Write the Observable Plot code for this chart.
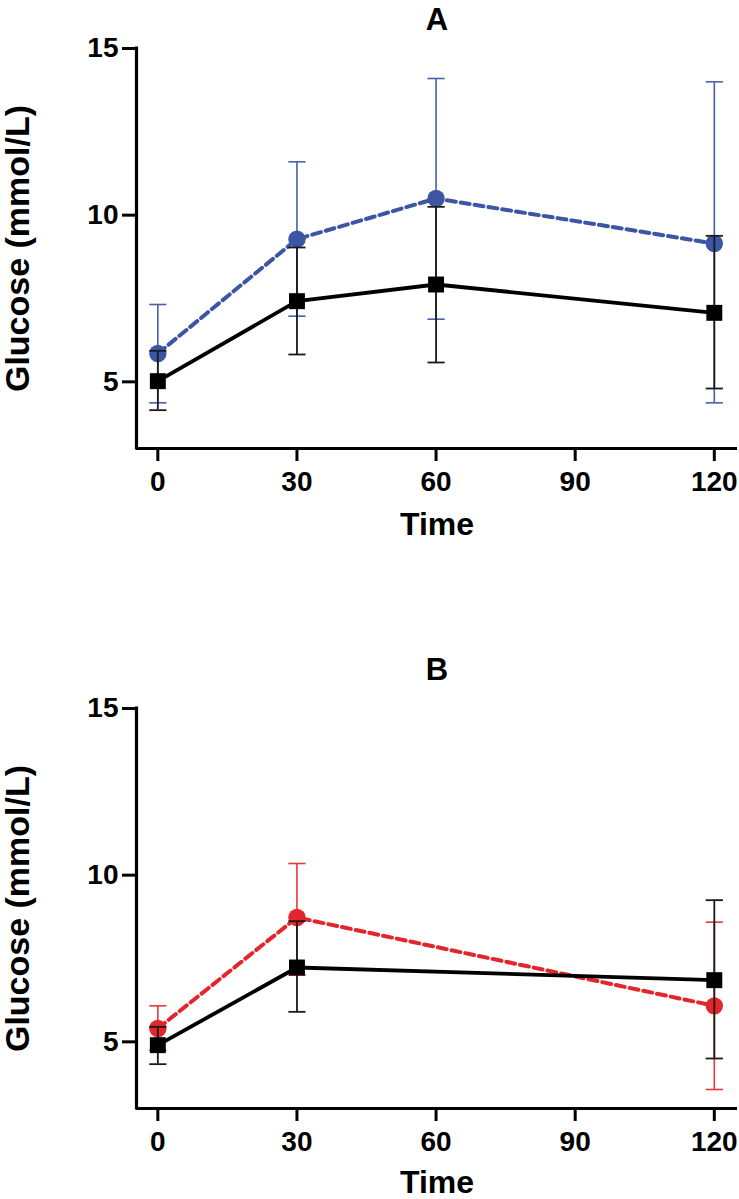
<!DOCTYPE html>
<html><head><meta charset="utf-8">
<script src="https://cdn.jsdelivr.net/npm/d3@7"></script>
<script src="https://cdn.jsdelivr.net/npm/@observablehq/plot@0.6"></script>
<style>
body{margin:0;background:#fff}
#chart svg{display:block}
</style>
</head><body><div id="chart"></div>
<script>
// ---- data ----
const xTicks = [0, 30, 60, 90, 120];
const yTicks = [5, 10, 15];
const xDomain = [-4.6, 125];
const yDomain = [3, 15];

// Panel A
const timesA = [0, 30, 60, 120];
const blackMeanA = [5.02, 7.42, 7.92, 7.07];
const blackLoA   = [4.15, 5.82, 5.58, 4.80];
const blackHiA   = [5.93, 9.03, 10.25, 9.38];
const blueMeanA  = [5.85, 9.28, 10.50, 9.15];
const blueLoA    = [4.37, 6.97, 6.88, 4.37];
const blueHiA    = [7.32, 11.60, 14.10, 14.00];

// Panel B
const timesB = [0, 30, 120];
const blackMeanB = [4.90, 7.23, 6.85];
const blackLoB   = [4.33, 5.90, 4.50];
const blackHiB   = [5.45, 8.62, 9.25];
const redMeanB   = [5.40, 8.73, 6.08];
const redLoB     = [4.75, 7.00, 3.57];
const redHiB     = [6.08, 10.35, 8.59];

const rows = (times, mean, lo, hi) => times.map((t, i) => ({t, mean: mean[i], lo: lo[i], hi: hi[i]}));

// horizontal cap symbol for error bars
const cap = {draw(ctx, size) { const w = Math.sqrt(size / Math.PI); ctx.moveTo(-w, 0); ctx.lineTo(w, 0); }};

const FONT = "Liberation Sans, Arial, Helvetica, sans-serif";

function seriesMarks(s) {
  return [
    Plot.ruleX(s.data, {x: "t", y1: "lo", y2: "hi", stroke: s.bar, strokeWidth: s.barW}),
    Plot.dot(s.data, {x: "t", y: "lo", symbol: cap, r: 8.6, fill: "none", stroke: s.bar, strokeWidth: s.barW}),
    Plot.dot(s.data, {x: "t", y: "hi", symbol: cap, r: 8.6, fill: "none", stroke: s.bar, strokeWidth: s.barW}),
    Plot.line(s.data, {x: "t", y: "mean", stroke: s.color, strokeWidth: s.lineW, strokeDasharray: s.dash}),
    Plot.dot(s.data, {x: "t", y: "mean", symbol: s.symbol, r: s.r, fill: s.color, stroke: "none"})
  ];
}

function panel({title, series, height, marginTop, marginBottom, titleDy, timeDy}) {
  return Plot.plot({
    width: 739,
    height,
    marginLeft: 136,
    marginRight: 2,
    marginTop,
    marginBottom,
    style: {fontFamily: FONT, fontSize: "28px", fontWeight: "bold", color: "#000", background: "#fff", overflow: "visible"},
    x: {domain: xDomain, label: null},
    y: {domain: yDomain, label: null},
    marks: [
      ...series.flatMap(seriesMarks),
      Plot.ruleY([yDomain[0]], {stroke: "#000", strokeWidth: 3.2}),
      Plot.ruleX([xDomain[0]], {stroke: "#000", strokeWidth: 3.2, strokeLinecap: "square"}),
      Plot.axisX({ticks: xTicks, tickSize: 13, tickPadding: 10, strokeWidth: 3, label: null, fontSize: 28, fontWeight: "bold"}),
      Plot.axisY({ticks: yTicks, tickSize: 14, tickPadding: 4, strokeWidth: 3, label: null, fontSize: 28, fontWeight: "bold"}),
      Plot.text([title], {frameAnchor: "top", dy: titleDy, text: d => d, fontSize: 31, fontWeight: "bold", lineAnchor: "middle", fill: "#000"}),
      Plot.text(["Time"], {frameAnchor: "bottom", dy: timeDy, text: d => d, fontSize: 32, fontWeight: "bold", lineAnchor: "middle", fill: "#000"}),
      Plot.text(["Glucose (mmol/L)"], {frameAnchor: "left", dx: -118, rotate: -90, text: d => d, fontSize: 34, fontWeight: "bold", textAnchor: "middle", lineAnchor: "middle", fill: "#000"})
    ]
  });
}

const blackStyle = {color: "#000", bar: "#1a1a1a", barW: 1.8, lineW: 3.8, dash: null, symbol: "square", r: 9};

const chartA = panel({
  title: "A", height: 600, marginTop: 48, marginBottom: 152, titleDy: -28, timeDy: 76,
  series: [
    {data: rows(timesA, blueMeanA, blueLoA, blueHiA), color: "#3c55a5", bar: "#4a5fab", barW: 1.6, lineW: 4, dash: "9,5", symbol: "circle", r: 8.7},
    {data: rows(timesA, blackMeanA, blackLoA, blackHiA), ...blackStyle}
  ]
});

const chartB = panel({
  title: "B", height: 599, marginTop: 108, marginBottom: 91, titleDy: -38, timeDy: 74,
  series: [
    {data: rows(timesB, redMeanB, redLoB, redHiB), color: "#e3262b", bar: "#e8383c", barW: 1.6, lineW: 4, dash: "9,5", symbol: "circle", r: 8.7},
    {data: rows(timesB, blackMeanB, blackLoB, blackHiB), ...blackStyle}
  ]
});

document.getElementById("chart").append(chartA, chartB);
</script>
</body></html>
